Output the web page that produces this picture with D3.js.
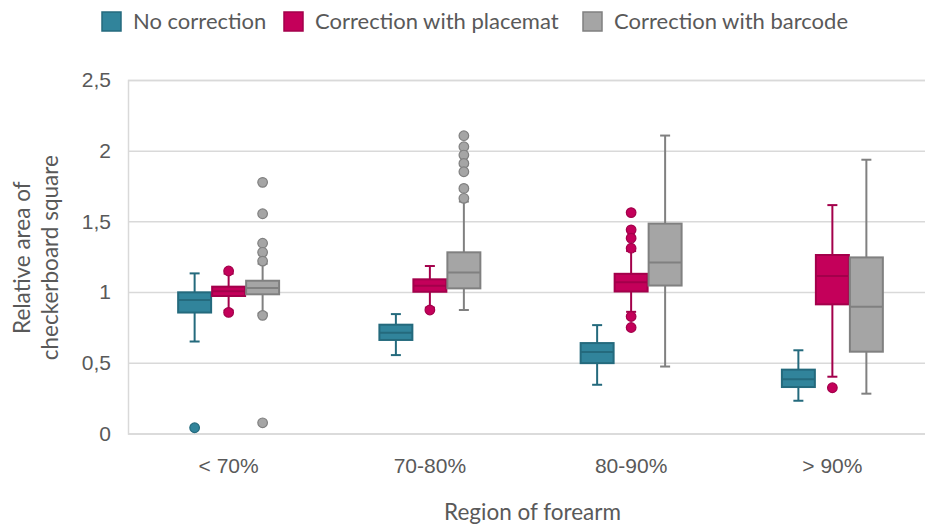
<!DOCTYPE html>
<html>
<head>
<meta charset="utf-8">
<script src="https://cdn.jsdelivr.net/npm/d3@7"></script>
<style>
  html, body { margin: 0; padding: 0; background: #fff; overflow: hidden; }
  svg { display: block; font-family: Lato, "Open Sans", sans-serif; }
</style>
</head>
<body>
<svg id="chart" width="925" height="526"></svg>
<script>
// Forearm regions along the x axis
const categories = ["< 70%", "70-80%", "80-90%", "> 90%"];
const seriesNames = ["No correction", "Correction with placemat", "Correction with barcode"];
const seriesFill = ["#31849b", "#c4005a", "#a5a5a5"];
const seriesStroke = ["#246a7d", "#a3004b", "#808080"];
const yTicks = [0, 0.5, 1, 1.5, 2, 2.5];

// Five-number summaries per region: [whisker low, Q1, median, Q3, whisker high]
const noCorrection = [
  [0.65, 0.855, 0.943, 0.998, 1.132],
  [0.554, 0.661, 0.712, 0.769, 0.844],
  [0.344, 0.497, 0.575, 0.639, 0.766],
  [0.231, 0.328, 0.383, 0.451, 0.588]
];
const placemat = [
  [0.87, 0.972, 1.005, 1.038, 1.13],
  [0.89, 1.002, 1.045, 1.09, 1.184],
  [0.86, 1.004, 1.07, 1.129, 1.29],
  [0.401, 0.913, 1.113, 1.262, 1.615]
];
const barcode = [
  [0.849, 0.984, 1.028, 1.08, 1.2],
  [0.873, 1.026, 1.139, 1.281, 1.64],
  [0.473, 1.046, 1.209, 1.484, 2.107],
  [0.281, 0.578, 0.896, 1.245, 1.936]
];

// Outlying observations per region
const noCorrectionOutliers = [[0.04], [], [], []];
const placematOutliers = [[1.149, 0.856], [0.873], [1.562, 1.44, 1.381, 1.31, 0.827, 0.749], [0.323]];
const barcodeOutliers = [[1.776, 1.554, 1.345, 1.281, 1.219, 0.835, 0.075], [2.106, 2.028, 1.969, 1.91, 1.851, 1.733, 1.663], [], []];

const stats = [noCorrection, placemat, barcode];
const outliers = [noCorrectionOutliers, placematOutliers, barcodeOutliers];

const W = 925, H = 526;
const svg = d3.select("#chart");
const textColor = "#595959";
const gridColor = "#d9d9d9";

const plotLeft = 128, plotRight = 933, plotTop = 80, plotBottom = 433.4;

const x = d3.scaleBand().domain(categories).range([plotLeft, plotRight]).paddingInner(0).paddingOuter(0);
const xSeries = d3.scaleBand().domain(d3.range(seriesNames.length))
  .range([0, x.bandwidth()]).paddingInner(0.03).paddingOuter(1.475);
const y = d3.scaleLinear().domain([0, 2.5]).range([plotBottom, plotTop]);

// Horizontal gridlines and value axis labels
const yAxis = d3.axisLeft(y).tickValues(yTicks)
  .tickFormat(d => String(d).replace(".", ","))
  .tickSize(-(W - plotLeft)).tickPadding(17);
const gy = svg.append("g").attr("transform", `translate(${plotLeft},0)`).call(yAxis);
gy.select(".domain").attr("stroke", gridColor).attr("stroke-width", 1.5);
gy.selectAll(".tick line").attr("stroke", gridColor).attr("stroke-width", 1.5);
gy.selectAll(".tick text").attr("fill", textColor).attr("font-size", 21);

// Category axis labels
const xAxis = d3.axisBottom(x).tickSize(0).tickPadding(25);
const gx = svg.append("g").attr("transform", `translate(0,${plotBottom})`).call(xAxis);
gx.select(".domain").remove();
gx.selectAll(".tick text").attr("fill", textColor).attr("font-size", 21);

// Axis titles
svg.append("text")
  .attr("x", (plotLeft + plotRight) / 2 + 2).attr("y", 520)
  .attr("text-anchor", "middle").attr("fill", textColor).attr("font-size", 22.5)
  .text("Region of forearm");

const yTitle = svg.append("text")
  .attr("transform", `translate(0,${(plotTop + plotBottom) / 2 + 1}) rotate(-90)`)
  .attr("text-anchor", "middle").attr("fill", textColor).attr("font-size", 22.5);
yTitle.append("tspan").attr("x", 0).attr("y", 30).text("Relative area of");
yTitle.append("tspan").attr("x", 0).attr("y", 58).text("checkerboard square");

// Box plots
const capW = 10;
const boxes = svg.append("g");
stats.forEach((series, si) => {
  series.forEach((s, ci) => {
    const [lo, q1, med, q3, hi] = s;
    const x0 = x(categories[ci]) + xSeries(si);
    const bw = xSeries.bandwidth();
    const cx = x0 + bw / 2;
    const g = boxes.append("g")
      .attr("stroke", seriesStroke[si]).attr("stroke-width", 2);
    // whiskers
    g.append("line").attr("x1", cx).attr("x2", cx).attr("y1", y(hi)).attr("y2", y(q3));
    g.append("line").attr("x1", cx).attr("x2", cx).attr("y1", y(q1)).attr("y2", y(lo));
    g.append("line").attr("x1", cx - capW / 2).attr("x2", cx + capW / 2).attr("y1", y(hi)).attr("y2", y(hi));
    g.append("line").attr("x1", cx - capW / 2).attr("x2", cx + capW / 2).attr("y1", y(lo)).attr("y2", y(lo));
    // box
    g.append("rect").attr("x", x0).attr("width", bw)
      .attr("y", y(q3)).attr("height", y(q1) - y(q3))
      .attr("fill", seriesFill[si]);
    // median
    g.append("line").attr("x1", x0).attr("x2", x0 + bw).attr("y1", y(med)).attr("y2", y(med));
    // outliers
    outliers[si][ci].forEach(v => {
      g.append("circle").attr("cx", cx).attr("cy", y(v)).attr("r", 4.8)
        .attr("fill", seriesFill[si]).attr("stroke-width", 1.2);
    });
  });
});

// Legend
const legendX = [102, 284, 583];
const legend = svg.append("g");
seriesNames.forEach((name, i) => {
  const lg = legend.append("g").attr("transform", `translate(${legendX[i]},12)`);
  lg.append("rect").attr("width", 19).attr("height", 19)
    .attr("fill", seriesFill[i]).attr("stroke", seriesStroke[i]).attr("stroke-width", 1.5);
  lg.append("text").attr("x", 31).attr("y", 17).attr("fill", textColor)
    .attr("font-size", 22).text(name);
});
</script>
</body>
</html>
